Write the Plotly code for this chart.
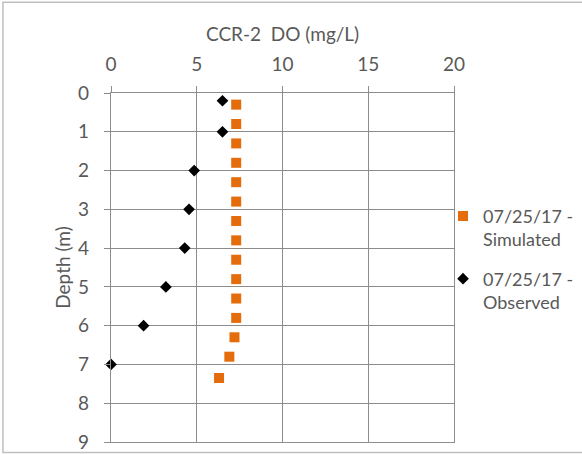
import plotly.graph_objects as go

# Simulated dissolved-oxygen profile (mg/L) by depth (m)
sim_depth = [0.3, 0.8, 1.3, 1.8, 2.3, 2.8, 3.3, 3.8, 4.3, 4.8, 5.3, 5.8, 6.3, 6.8, 7.35]
sim_do = [7.3, 7.3, 7.3, 7.3, 7.3, 7.3, 7.3, 7.3, 7.3, 7.3, 7.3, 7.3, 7.2, 6.9, 6.3]

# Observed dissolved-oxygen profile
obs_depth = [0.2, 1.0, 2.0, 3.0, 4.0, 5.0, 6.0, 7.0]
obs_do = [6.5, 6.5, 4.85, 4.55, 4.3, 3.2, 1.9, 0.0]

x_ticks = [0, 5, 10, 15, 20]
y_ticks = [0, 1, 2, 3, 4, 5, 6, 7, 8, 9]

font_family = "Lato, 'Open Sans', sans-serif"
text_color = "#595959"
grid_color = "#8c8c8c"

fig = go.Figure()
fig.add_trace(go.Scatter(
    x=sim_do, y=sim_depth, mode="markers",
    name="07/25/17 -<br>Simulated", legendgroup="sim",
    marker=dict(symbol="square", size=10, color="#E46C0A"),
    cliponaxis=False,
))
fig.add_trace(go.Scatter(
    x=obs_do, y=obs_depth, mode="markers",
    name="07/25/17 -<br>Observed", legendgroup="obs",
    marker=dict(symbol="diamond", size=9, color="#000000"),
    cliponaxis=False,
))

axis_common = dict(
    showgrid=True, gridcolor=grid_color, gridwidth=1.3,
    zeroline=False, showline=True, mirror=True,
    linecolor=grid_color, linewidth=1.3,
    ticks="outside", ticklen=6, tickcolor=grid_color, tickwidth=1.3,
    tickfont=dict(size=19, color=text_color),
)

fig.update_layout(
    width=582, height=454,
    margin=dict(l=111, r=128, t=93, b=12, autoexpand=False),
    paper_bgcolor="white", plot_bgcolor="white",
    font=dict(family=font_family, color=text_color, size=18),
    showlegend=True,
    legend=dict(
        x=0.968, xanchor="left", y=0.70, yanchor="top",
        font=dict(size=18, color=text_color),
        valign="top", traceorder="grouped", tracegroupgap=13,
        bgcolor="rgba(0,0,0,0)",
    ),
    xaxis=dict(side="top", range=[0, 20], tickvals=x_ticks,
               ticklabelstandoff=7, **axis_common),
    yaxis=dict(
        range=[9, 0], tickvals=y_ticks, ticklabelstandoff=11,
        title=dict(text="Depth (m)", font=dict(size=19, color=text_color), standoff=2),
        **axis_common,
    ),
    annotations=[dict(
        text="CCR-2  DO (mg/L)", xref="paper", yref="paper",
        x=0.5, y=1.0, yshift=60, xanchor="center", yanchor="middle",
        showarrow=False, font=dict(size=19, color=text_color),
    )],
    shapes=[dict(
        type="rect", xref="paper", yref="paper",
        x0=-0.315, x1=1.45, y0=-0.030, y1=1.26,
        line=dict(color="#bfbfbf", width=1.5), fillcolor="rgba(0,0,0,0)",
        layer="below",
    )],
)

fig.write_html("out.html")
